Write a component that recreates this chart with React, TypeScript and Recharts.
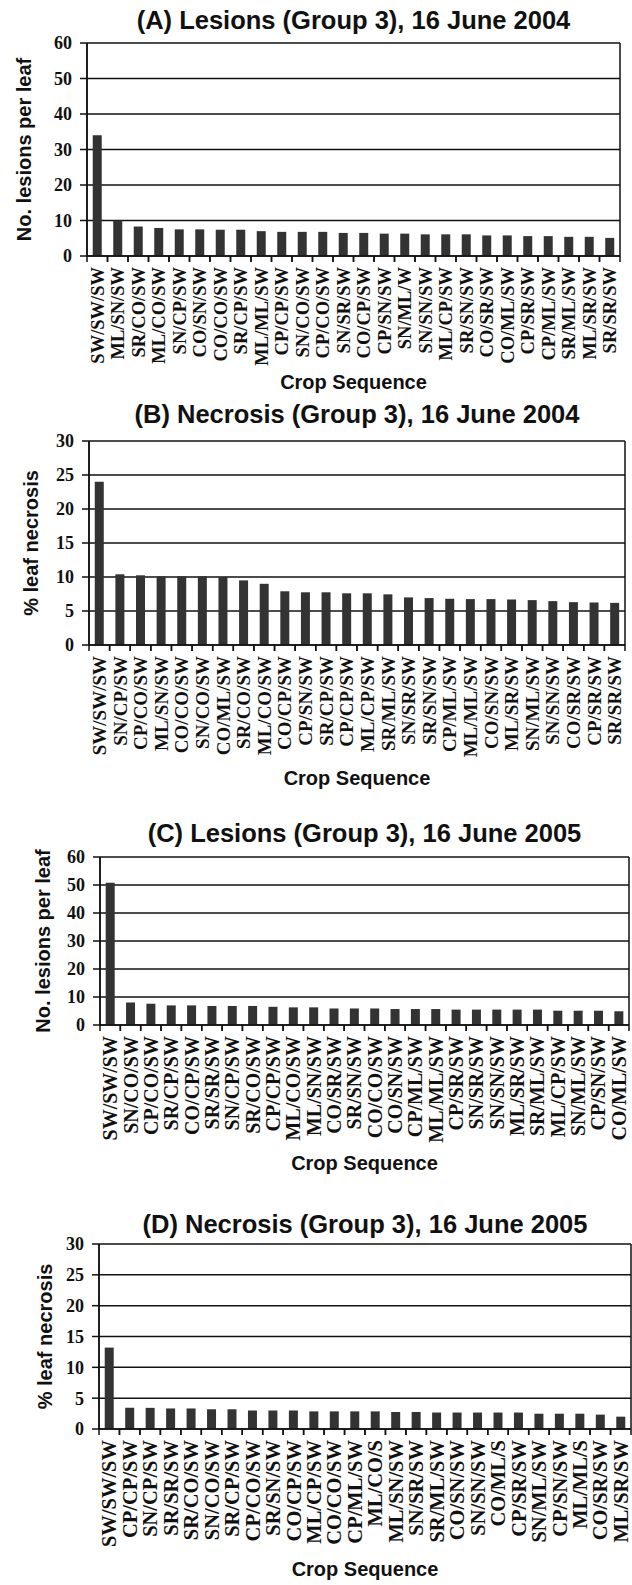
import React from 'react'
import { Bar, BarChart, CartesianGrid, XAxis, YAxis } from 'recharts'

// (A) lesions per leaf, 16 June 2004
const seqA = [
  'SW/SW/SW', 'ML/SN/SW', 'SR/CO/SW', 'ML/CO/SW', 'SN/CP/SW', 'CO/SN/SW', 'CO/CO/SW', 'SR/CP/SW', 'ML/ML/SW',
  'CP/CP/SW', 'SN/CO/SW', 'CP/CO/SW', 'SN/SR/SW', 'CO/CP/SW', 'CP/SN/SW', 'SN/ML/W', 'SN/SN/SW', 'ML/CP/SW',
  'SR/SN/SW', 'CO/SR/SW', 'CO/ML/SW', 'CP/SR/SW', 'CP/ML/SW', 'SR/ML/SW', 'ML/SR/SW', 'SR/SR/SW',
]
const lesions2004 = [
  34, 10, 8.3, 7.9, 7.5, 7.5, 7.4, 7.4, 7.0, 6.8, 6.8, 6.8, 6.5, 6.5, 6.3, 6.3, 6.1, 6.1, 6.1, 5.8, 5.8, 5.6,
  5.6, 5.4, 5.4, 5.1,
]

// (B) % leaf necrosis, 16 June 2004
const seqB = [
  'SW/SW/SW', 'SN/CP/SW', 'CP/CO/SW', 'ML/SN/SW', 'CO/CO/SW', 'SN/CO/SW', 'CO/ML/SW', 'SR/CO/SW', 'ML/CO/SW',
  'CO/CP/SW', 'CP/SN/SW', 'SR/CP/SW', 'CP/CP/SW', 'ML/CP/SW', 'SR/ML/SW', 'SN/SR/SW', 'SR/SN/SW', 'CP/ML/SW',
  'ML/ML/SW', 'CO/SN/SW', 'ML/SR/SW', 'SN/ML/SW', 'SN/SN/SW', 'CO/SR/SW', 'CP/SR/SW', 'SR/SR/SW',
]
const necrosis2004 = [
  24, 10.4, 10.25, 10.1, 10.1, 10.1, 10.0, 9.5, 9.0, 7.9, 7.75, 7.75, 7.6, 7.6, 7.45, 7.0, 6.9, 6.8, 6.75,
  6.75, 6.7, 6.6, 6.45, 6.3, 6.25, 6.2,
]

// (C) lesions per leaf, 16 June 2005
const seqC = [
  'SW/SW/SW', 'SN/CO/SW', 'CP/CO/SW', 'SR/CP/SW', 'CO/CP/SW', 'SR/SR/SW', 'SN/CP/SW', 'SR/CO/SW', 'CP/CP/SW',
  'ML/CO/SW', 'ML/SN/SW', 'CO/SR/SW', 'SR/SN/SW', 'CO/CO/SW', 'CO/SN/SW', 'CP/ML/SW', 'ML/ML/SW', 'CP/SR/SW',
  'SN/SR/SW', 'SN/SN/SW', 'ML/SR/SW', 'SR/ML/SW', 'ML/CP/SW', 'SN/ML/SW', 'CP/SN/SW', 'CO/ML/SW',
]
const lesions2005 = [
  50.8, 8.0, 7.6, 7.0, 7.0, 6.8, 6.8, 6.8, 6.5, 6.3, 6.3, 5.9, 5.9, 5.9, 5.7, 5.7, 5.7, 5.5, 5.5, 5.5, 5.5,
  5.5, 5.1, 5.1, 5.1, 4.9,
]

// (D) % leaf necrosis, 16 June 2005
const seqD = [
  'SW/SW/SW', 'CP/CP/SW', 'SN/CP/SW', 'SR/SR/SW', 'SR/CO/SW', 'SN/CO/SW', 'SR/CP/SW', 'CP/CO/SW', 'SR/SN/SW',
  'CO/CP/SW', 'ML/CP/SW', 'CO/CO/SW', 'CP/ML/SW', 'ML/CO/S', 'ML/SN/SW', 'SN/SR/SW', 'SR/ML/SW', 'CO/SN/SW',
  'SN/SN/SW', 'CO/ML/S', 'CP/SR/SW', 'SN/ML/SW', 'CP/SN/SW', 'ML/ML/S', 'CO/SR/SW', 'ML/SR/SW',
]
const necrosis2005 = [
  13.2, 3.43, 3.43, 3.33, 3.33, 3.2, 3.2, 3.0, 3.0, 3.0, 2.86, 2.86, 2.86, 2.86, 2.76, 2.76, 2.67, 2.67, 2.67,
  2.67, 2.67, 2.48, 2.48, 2.48, 2.33, 2.0,
]

const lesionTicks = [0, 10, 20, 30, 40, 50, 60]
const necrosisTicks = [0, 5, 10, 15, 20, 25, 30]

const INK = '#111'
const BAR = '#333'
const SANS = '"Liberation Sans", Arial, Helvetica, sans-serif'
const SERIF = '"Liberation Serif", "Times New Roman", serif'
const TICK_SIZE = 6
const TICK_MARGIN = 5
const PAD = 14
const BOTTOM_PAD = 8

interface PanelDef {
  title: string
  yLabel: string
  seq: string[]
  values: number[]
  ticks: number[]
  titleY: number
  top: number
  bottom: number
  left: number
  right: number
  cropBaseline: number
  yTitleX: number
  xFont: number
}

const panels: PanelDef[] = [
  { title: '(A) Lesions (Group 3), 16 June 2004', yLabel: 'No. lesions per leaf', seq: seqA, values: lesions2004, ticks: lesionTicks,
    titleY: 20, top: 43, bottom: 256, left: 87, right: 620, cropBaseline: 389, yTitleX: 24, xFont: 18.5 },
  { title: '(B) Necrosis (Group 3), 16 June 2004', yLabel: '% leaf necrosis', seq: seqB, values: necrosis2004, ticks: necrosisTicks,
    titleY: 414, top: 441, bottom: 645, left: 89, right: 625, cropBaseline: 785, yTitleX: 31, xFont: 19 },
  { title: '(C) Lesions (Group 3), 16 June 2005', yLabel: 'No. lesions per leaf', seq: seqC, values: lesions2005, ticks: lesionTicks,
    titleY: 833, top: 857, bottom: 1025, left: 100, right: 629, cropBaseline: 1170, yTitleX: 43, xFont: 20 },
  { title: '(D) Necrosis (Group 3), 16 June 2005', yLabel: '% leaf necrosis', seq: seqD, values: necrosis2005, ticks: necrosisTicks,
    titleY: 1224, top: 1244, bottom: 1429, left: 99, right: 631, cropBaseline: 1576, yTitleX: 45, xFont: 20.5 },
]

// Rotated category label, plus tick marks on the band edges (the original ticks sit between bars).
function SeqTick(props: any) {
  const { x, y, payload, size } = props
  const half = typeof payload?.offset === 'number' ? payload.offset : 0
  const axisY = y - TICK_SIZE - TICK_MARGIN
  return (
    <g>
      {half > 0 && (
        <>
          <line x1={x - half} x2={x - half} y1={axisY} y2={axisY + TICK_SIZE} stroke={INK} strokeWidth={1.5} />
          <line x1={x + half} x2={x + half} y1={axisY} y2={axisY + TICK_SIZE} stroke={INK} strokeWidth={1.5} />
        </>
      )}
      <text
        x={x}
        y={y}
        transform={`rotate(-90 ${x} ${y})`}
        textAnchor="end"
        dy="0.35em"
        fontSize={size}
        fontWeight="bold"
        fontFamily={SERIF}
        fill={INK}
      >
        {payload.value}
      </text>
    </g>
  )
}

function Panel({ p }: { p: PanelDef }) {
  const data = p.seq.map((s, i) => ({ seq: s, value: p.values[i] }))
  const yMax = p.ticks[p.ticks.length - 1]
  const xAxisH = p.cropBaseline - p.bottom
  const height = PAD + (p.bottom - p.top) + xAxisH + BOTTOM_PAD
  const axisLine = { stroke: INK, strokeWidth: 1.5 }
  return (
    <>
      <div
        style={{
          position: 'absolute',
          left: p.left,
          width: p.right - p.left,
          top: p.titleY - 15,
          height: 30,
          lineHeight: '30px',
          textAlign: 'center',
          whiteSpace: 'nowrap',
          fontFamily: SANS,
          fontWeight: 'bold',
          fontSize: 25.5,
          color: INK,
        }}
      >
        {p.title}
      </div>
      <div style={{ position: 'absolute', left: 0, top: p.top - PAD }}>
        <BarChart
          width={632}
          height={height}
          data={data}
          margin={{ top: PAD, right: 632 - p.right, bottom: BOTTOM_PAD, left: 0 }}
          barCategoryGap="28%"
        >
          {/* horizontal gridlines plus the frame's left and right edges */}
          <CartesianGrid
            stroke={INK}
            strokeWidth={1.5}
            verticalCoordinatesGenerator={({ offset }: any) => [offset.left, offset.left + offset.width]}
          />
          <XAxis
            dataKey="seq"
            interval={0}
            height={xAxisH}
            tickSize={TICK_SIZE}
            tickMargin={TICK_MARGIN}
            tickLine={false}
            axisLine={axisLine}
            tick={(t: any) => <SeqTick {...t} size={p.xFont} />}
            label={{
              value: 'Crop Sequence',
              position: 'insideBottom',
              offset: 0,
              style: { fontFamily: SANS, fontWeight: 'bold', fontSize: 20, fill: INK },
            }}
          />
          <YAxis
            width={p.left}
            domain={[0, yMax]}
            ticks={p.ticks}
            interval={0}
            tickSize={7}
            tickMargin={8}
            axisLine={axisLine}
            tickLine={axisLine}
            tick={{ fontFamily: SERIF, fontWeight: 'bold', fontSize: 18, fill: INK }}
            label={{
              value: p.yLabel,
              angle: -90,
              position: 'insideLeft',
              offset: p.yTitleX,
              style: { textAnchor: 'middle', fontFamily: SANS, fontWeight: 'bold', fontSize: 20, fill: INK },
            }}
          />
          <Bar dataKey="value" fill={BAR} isAnimationActive={false} />
        </BarChart>
      </div>
    </>
  )
}

export default function App() {
  return (
    <div style={{ position: 'absolute', left: 0, top: 0, width: 632, height: 1585, background: '#fff' }}>
      {panels.map((p) => (
        <Panel key={p.title} p={p} />
      ))}
    </div>
  )
}
